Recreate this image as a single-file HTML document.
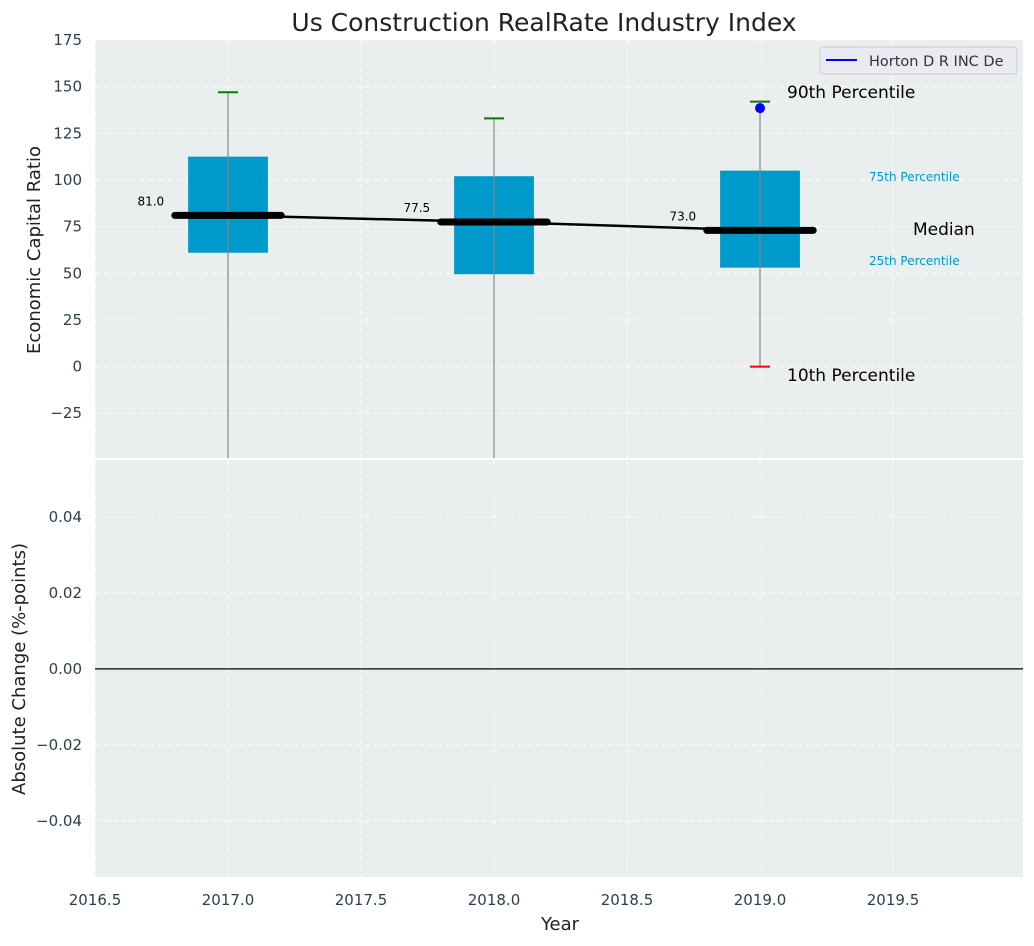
<!DOCTYPE html>
<html><head><meta charset="utf-8"><style>
body{margin:0;background:#fff;font-family:"DejaVu Sans","Liberation Sans",sans-serif}
svg text{font-family:"DejaVu Sans","Liberation Sans",sans-serif}
</style></head><body>
<svg id="c" width="1034" height="942" xmlns="http://www.w3.org/2000/svg"></svg>
<script>
const years=[2017,2018,2019];
const p10=[-60,-60,0];
const p25=[61,49.5,53];
const med=[81.0,77.5,73.0];
const p75=[112.5,102,105];
const p90=[147,133,142];
const companyYears=[2019];
const companyVals=[138.5];
const yTicksTop=[-25,0,25,50,75,100,125,150,175];
const yTicksBot=[-0.04,-0.02,0,0.02,0.04];
const xTicks=[2016.5,2017,2017.5,2018,2018.5,2019,2019.5];

const NS="http://www.w3.org/2000/svg";
const svg=document.getElementById('c');
const L=95,R=1023,T1=40,B1=458,T2=460,B2=877;
const xS=v=>L+(v-2016.5)/(3.4887)*(R-L);
const yS=v=>B1-(v+49)/(224)*(B1-T1);
const y2=v=>B2-(v+0.0548)/(0.1098)*(B2-T2);
function el(t,a,txt){const e=document.createElementNS(NS,t);for(const k in a)e.setAttribute(k,a[k]);if(txt!==undefined)e.textContent=txt;svg.appendChild(e);return e;}

let r=el('rect',{x:L,y:T1,width:R-L,height:B1-T1,fill:'#eaeeef'});

r=el('rect',{x:L,y:T2,width:R-L,height:B2-T2,fill:'#eaeeef'});


xTicks.forEach(v=>{
 [ [T1,B1],[T2,B2] ].forEach(([a,b])=>{const g=el('line',{x1:xS(v),x2:xS(v),y1:a,y2:b,stroke:'#fff','stroke-dasharray':'5,4','stroke-width':1});});
 const t=el('text',{x:xS(v),y:905,'text-anchor':'middle','font-size':15,fill:'#2d3e50'},v.toFixed(1));
 
});
yTicksTop.forEach(v=>{
 const g=el('line',{x1:L,x2:R,y1:yS(v),y2:yS(v),stroke:'#fff','stroke-dasharray':'5,4'});
 const t=el('text',{x:82,y:yS(v)+5,'text-anchor':'end','font-size':15,fill:'#2d3e50'},v<0?'\u2212'+(-v):v);
 
});
yTicksBot.forEach(v=>{
 const g=el('line',{x1:L,x2:R,y1:y2(v),y2:y2(v),stroke:'#fff','stroke-dasharray':'5,4'});
 const s=(v<0?'\u2212':'')+Math.abs(v).toFixed(2);
 const t=el('text',{x:82,y:y2(v)+5,'text-anchor':'end','font-size':15,fill:'#2d3e50'},s);
 
});
let z=el('line',{x1:L,x2:R,y1:y2(0),y2:y2(0),stroke:'#000','stroke-width':1.2});


const bw=0.15;
years.forEach((yr,i)=>{
 const b=el('rect',{x:xS(yr-bw),y:yS(p75[i]),width:xS(yr+bw)-xS(yr-bw),height:yS(p25[i])-yS(p75[i]),fill:'#0099cc'});
 
 const w=el('line',{x1:xS(yr),x2:xS(yr),y1:yS(p90[i]),y2:Math.min(B1,yS(p10[i])),stroke:'#888','stroke-width':1.2});
 
 const c=el('line',{x1:xS(yr)-10,x2:xS(yr)+10,y1:yS(p90[i]),y2:yS(p90[i]),stroke:'green','stroke-width':2});
 
 if(p10[i]>-49){const c2=el('line',{x1:xS(yr)-10,x2:xS(yr)+10,y1:yS(p10[i]),y2:yS(p10[i]),stroke:'red','stroke-width':2});
 }
 const m=el('line',{x1:xS(yr-0.2),x2:xS(yr+0.2),y1:yS(med[i]),y2:yS(med[i]),stroke:'#000','stroke-width':7,'stroke-linecap':'round'});
 
 const t=el('text',{x:xS(yr-0.24),y:yS(med[i])-10,'text-anchor':'end','font-size':12,fill:'#000'},med[i].toFixed(1));
 
});
const pl=el('polyline',{points:years.map((y,i)=>xS(y)+','+yS(med[i])).join(' '),fill:'none',stroke:'#000','stroke-width':2.5});

companyYears.forEach((y,i)=>{const d=el('circle',{cx:xS(y),cy:yS(companyVals[i]),r:5,fill:'blue'});
 });

const ann=[[787,98,'90th Percentile',17,'#000'],[869,181,'75th Percentile',12,'#0099cc'],[913,235,'Median',17,'#000'],[869,265,'25th Percentile',12,'#0099cc'],[787,381,'10th Percentile',17,'#000']];
ann.forEach(a=>{const t=el('text',{x:a[0],y:a[1],'font-size':a[3],fill:a[4]},a[2]);});

let lg=el('rect',{x:820,y:47,width:197,height:27,rx:3,fill:'#eaeaf2',stroke:'#ccc'});

lg=el('line',{x1:826,x2:857,y1:60,y2:60,stroke:'blue','stroke-width':2});

lg=el('text',{x:869,y:66,'font-size':14.5,fill:'#333'},'Horton D R INC De');


let t=el('text',{x:544,y:31,'text-anchor':'middle','font-size':25,fill:'#222'},'Us Construction RealRate Industry Index');

t=el('text',{x:560,y:930,'text-anchor':'middle','font-size':18,fill:'#222'},'Year');

t=el('text',{x:40,y:250,'text-anchor':'middle','font-size':18,fill:'#222',transform:'rotate(-90 40 250)'},'Economic Capital Ratio');

t=el('text',{x:25,y:669,'text-anchor':'middle','font-size':18,fill:'#222',transform:'rotate(-90 25 669)'},'Absolute Change (%-points)');

</script>
</body></html>
